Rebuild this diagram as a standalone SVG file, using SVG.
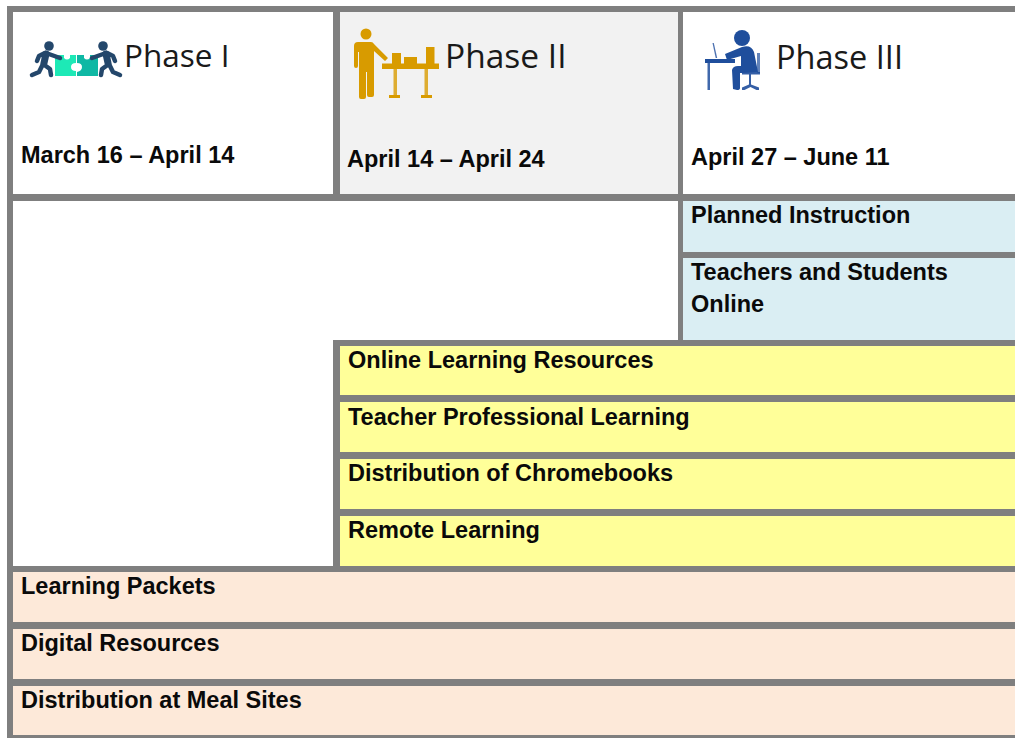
<svg xmlns="http://www.w3.org/2000/svg" width="1015" height="738" viewBox="0 0 1015 738">
<style>
.g{fill:#7f7f7f}
.w{fill:#fff}
.s{fill:#f2f2f2}
.b{fill:#daeef3}
.y{fill:#ffff99}
.p{fill:#fde9d9}
text{fill:#0a0a0a}
.t{font-family:"Liberation Sans",Arial,sans-serif;font-weight:700;font-size:23.5px}
.h{font-family:"Open Sans","Noto Sans",sans-serif;fill:#1a1a1a}
.nv{fill:none;stroke:#24476b;stroke-linecap:round;stroke-linejoin:round}
.go{fill:#d89b00}
.bl{fill:#1f4e9c}
</style>
<rect class="w" width="1015" height="738"/>
<rect class="g" x="7" y="6" width="1008" height="732"/>
<rect class="w" x="13" y="12" width="320" height="182"/>
<rect class="s" x="340" y="12" width="338" height="182"/>
<rect class="w" x="683" y="12" width="332" height="182"/>
<rect class="w" x="13" y="201" width="665" height="139"/>
<rect class="w" x="13" y="340" width="320" height="226"/>

<g id="phase1">
<g id="phase1-icon">
<path fill="#1de9b6" d="M55 55h9v3q3 3 6 0v-3h6v8q-5 0-5 4t5 4v5H55z"/>
<path fill="#0fb8a4" d="M77 55h7v3q3 3 6 0v-3h8v21H77v-4q5-1 5-5t-5-4z"/>
<circle cx="49" cy="46" r="4.800" fill="#24476b"/>
<circle cx="103" cy="46" r="4.800" fill="#24476b"/>
<g class="nv">
<path stroke-width="7" d="M46 54l-2 9"/>
<path stroke-width="4.500" d="M46 53l14 5M43 64l-4 8-7 3M43 64l7 5 1 6M45 53l-6 3-2 5"/>
<path stroke-width="7" d="M106 54l2 9"/>
<path stroke-width="4.500" d="M106 53l-14 5M109 64l4 8 7 3M109 64l-7 5-1 6M107 53l6 3 2 5"/>
</g>
</g>
<text class="h" x="124" y="67" font-size="31.500">Phase I</text>
<text class="t" x="21" y="163">March 16 – April 14</text>
</g>

<g id="phase2">
<g id="phase2-icon" class="go">
<circle cx="366" cy="34" r="5.500"/>
<path d="M354 46q0-4 4-4h13q2 0 3 2l14 14-3 3-11-10v44q0 2-2 2h-3q-2 0-2-2V72h-1v25q0 2-2 2h-3q-2 0-2-2V52h-1v14q0 2-2 2t-2-2z"/>
<rect x="382" y="63.500" width="57" height="5.500"/>
<rect x="392" y="53" width="9" height="11"/>
<rect x="404" y="57" width="13" height="7"/>
<rect x="426" y="47" width="8.500" height="17"/>
<rect x="393.500" y="69" width="3.500" height="27" opacity=".8"/>
<rect x="424.500" y="69" width="3.500" height="27" opacity=".8"/>
<rect x="389" y="95" width="11" height="3"/>
<rect x="421" y="95" width="11" height="3"/>
</g>
<text class="h" x="445" y="68" font-size="33.500">Phase II</text>
<text class="t" x="347" y="167">April 14 – April 24</text>
</g>

<g id="phase3">
<g id="phase3-icon" class="bl">
<circle cx="742" cy="38" r="8"/>
<path d="M725 54l17-7q9-3 12 5l4 20-16 1h-2v15q0 2-3 2l-4-1-1-19q1-4 6-4h3V56l-14 4z"/>
<rect x="705" y="59" width="30" height="4"/>
<rect x="707.500" y="63" width="2.500" height="27" opacity=".85"/>
<path d="M712.500 43l1.300 0 3.400 15-1.500 0z" opacity=".8"/>
<rect x="757" y="53" width="3" height="20" opacity=".7"/>
<path d="M742 72h18v2.500h-9v10l8 3v2.500h-2.500l-6-3-6 3H742v-2.500l7-3v-10h-7z" opacity=".9"/>
</g>
<text class="h" x="776" y="69" font-size="32.500">Phase III</text>
<text class="t" x="691" y="165">April 27 – June 11</text>
</g>

<g id="planned-instruction"><rect class="b" x="683" y="201" width="332" height="51"/><text class="t" x="691" y="223">Planned Instruction</text></g>
<g id="teachers-students"><rect class="b" x="683" y="258" width="332" height="82"/><text class="t" x="691" y="280">Teachers and Students</text><text class="t" x="691" y="312">Online</text></g>
<g id="online-learning"><rect class="y" x="340" y="346" width="675" height="49"/><text class="t" x="348" y="368">Online Learning Resources</text></g>
<g id="teacher-pl"><rect class="y" x="340" y="402" width="675" height="50"/><text class="t" x="348" y="425">Teacher Professional Learning</text></g>
<g id="chromebooks"><rect class="y" x="340" y="459" width="675" height="50"/><text class="t" x="348" y="481">Distribution of Chromebooks</text></g>
<g id="remote"><rect class="y" x="340" y="516" width="675" height="50"/><text class="t" x="348" y="538">Remote Learning</text></g>
<g id="packets"><rect class="p" x="13" y="572" width="1002" height="50"/><text class="t" x="21" y="594">Learning Packets</text></g>
<g id="digital"><rect class="p" x="13" y="629" width="1002" height="50"/><text class="t" x="21" y="651">Digital Resources</text></g>
<g id="meal-sites"><rect class="p" x="13" y="686" width="1002" height="49"/><text class="t" x="21" y="708">Distribution at Meal Sites</text></g>
<g id="connectors"/>
</svg>
